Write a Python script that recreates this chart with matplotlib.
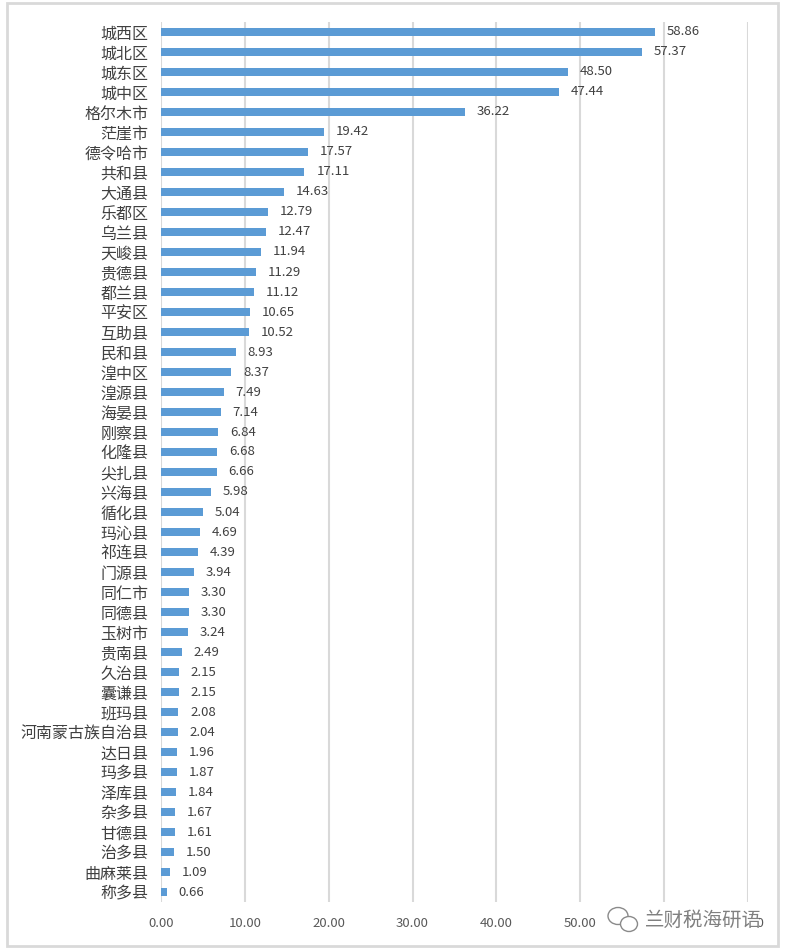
import matplotlib.pyplot as plt
from matplotlib.patches import Rectangle, Ellipse

plt.rcParams['font.family'] = ['Noto Sans CJK SC', 'DejaVu Sans']

regions = ['城西区', '城北区', '城东区', '城中区', '格尔木市', '茫崖市', '德令哈市', '共和县',
           '大通县', '乐都区', '乌兰县', '天峻县', '贵德县', '都兰县', '平安区', '互助县',
           '民和县', '湟中区', '湟源县', '海晏县', '刚察县', '化隆县', '尖扎县', '兴海县',
           '循化县', '玛沁县', '祁连县', '门源县', '同仁市', '同德县', '玉树市', '贵南县',
           '久治县', '囊谦县', '班玛县', '河南蒙古族自治县', '达日县', '玛多县', '泽库县',
           '杂多县', '甘德县', '治多县', '曲麻莱县', '称多县']
values = [58.86, 57.37, 48.50, 47.44, 36.22, 19.42, 17.57, 17.11,
          14.63, 12.79, 12.47, 11.94, 11.29, 11.12, 10.65, 10.52,
          8.93, 8.37, 7.49, 7.14, 6.84, 6.68, 6.66, 5.98,
          5.04, 4.69, 4.39, 3.94, 3.30, 3.30, 3.24, 2.49,
          2.15, 2.15, 2.08, 2.04, 1.96, 1.87, 1.84,
          1.67, 1.61, 1.50, 1.09, 0.66]
xticks = [0, 10, 20, 30, 40, 50, 60, 70]

W, H = 786, 952
fig = plt.figure(figsize=(W / 100, H / 100), dpi=100)
ax = fig.add_axes([161 / W, 1 - 902 / H, 587 / W, 880 / H])

ypos = list(range(len(regions)))
ax.barh(ypos, values, height=0.42, color='#5B9BD5', zorder=3)
for y, v in zip(ypos, values):
    ax.annotate('%.2f' % v, (v, y), xytext=(8.5, 0), textcoords='offset points',
                va='center', ha='left', fontsize=9.5, color='#404040')

ax.set_xlim(0, 70)
ax.set_ylim(len(regions) - 0.5, -0.5)
ax.set_xticks(xticks)
ax.set_xticklabels(['%.2f' % t for t in xticks], fontsize=9.5, color='#595959')
ax.set_yticks(ypos)
ax.set_yticklabels(regions, fontsize=11.5, color='#404040')
ax.tick_params(axis='both', length=0)
ax.tick_params(axis='x', pad=11)
ax.tick_params(axis='y', pad=9)
ax.grid(axis='x', color='#D9D9D9', linewidth=1.5, zorder=0)
for s in ax.spines.values():
    s.set_visible(False)

# outer frame
fig.patches.append(Rectangle((7 / W, 1 - 946 / H), 771 / W, 943 / H,
                             transform=fig.transFigure, fill=False,
                             edgecolor='#D9D9D9', linewidth=2))

# watermark (covers part of the last tick labels, as in the original)
fig.patches.append(Rectangle((603 / W, 1 - 938 / H), 156 / W, 34 / H,
                             transform=fig.transFigure, facecolor='white',
                             edgecolor='none', zorder=5))
fig.patches.append(Ellipse((618 / W, 1 - 916 / H), 20 / W, 17 / H,
                           transform=fig.transFigure, fill=False,
                           edgecolor='#8a8a8a', linewidth=1, zorder=6))
fig.patches.append(Ellipse((629 / W, 1 - 924 / H), 17 / W, 15 / H,
                           transform=fig.transFigure, facecolor='white',
                           edgecolor='#8a8a8a', linewidth=1, zorder=7))
fig.text(645 / W, 1 - 920 / H, '兰财税海研语', fontsize=14, color='#606060',
         alpha=0.8, ha='left', va='center', zorder=8)

fig.savefig('out.png', dpi=100)
